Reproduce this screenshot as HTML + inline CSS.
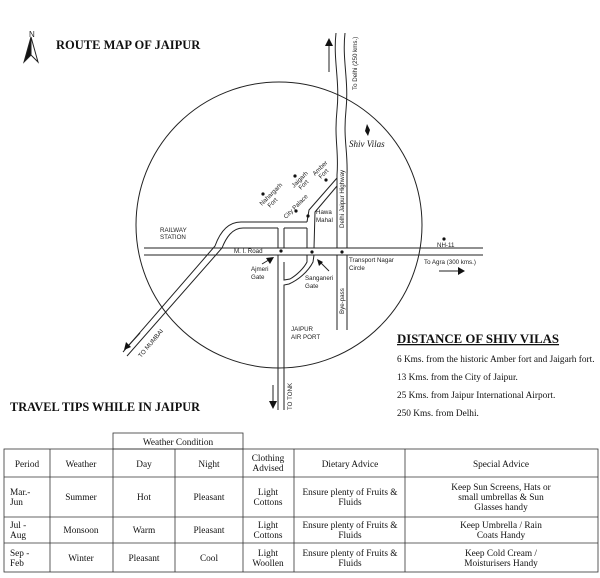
<!DOCTYPE html>
<html><head><meta charset="utf-8"><style>
html,body{margin:0;padding:0;background:#fff;}
svg{display:block;}
.s{font-family:"Liberation Serif",serif;fill:#111;}
.a{font-family:"Liberation Sans",sans-serif;fill:#222;font-size:6.2px;}
</style></head><body>
<svg width="600" height="578" viewBox="0 0 600 578" xmlns="http://www.w3.org/2000/svg">
<g stroke="#222" fill="none" stroke-width="1">
<path d="M31,37 L24,62 L31,55 Z" fill="#111"/>
<path d="M31,37 L38,62 L31,55" />
<circle cx="279" cy="225" r="143"/>
<line x1="144" y1="248" x2="483" y2="248"/>
<line x1="144" y1="255" x2="483" y2="255"/>
<path d="M336,33 C333,60 340,80 337,110 C334,140 339,150 337,175 L337,248"/>
<path d="M345,33 C342,60 349,80 346,110 C343,140 348,150 347,175 L347,248"/>
<line x1="337" y1="255" x2="337" y2="330"/>
<line x1="347" y1="255" x2="347" y2="330"/>
<line x1="329" y1="44" x2="329" y2="72"/>
<line x1="278" y1="228" x2="278" y2="248"/>
<line x1="278" y1="255" x2="278" y2="410"/>
<line x1="284" y1="228" x2="284" y2="248"/>
<path d="M284,262 L284,280 L290,279 C297,275 304,268 307,262 L307,255"/>
<path d="M284,410 L284,285 L289,284 C298,280 308,272 313,262 L314,255"/>
<line x1="273" y1="385" x2="273" y2="405"/>
<line x1="307" y1="228" x2="307" y2="248"/>
<line x1="284" y1="228" x2="307" y2="228"/>
<path d="M307,222 L241,222 C228,222 220,232 215,246 L123,352"/>
<path d="M278,228 L243,228 C232,228 226,238 222,248 L127,356"/>
<path d="M307,222 L309,210 L337,178"/>
<path d="M314,248 L315,212 L337,186"/>
<line x1="439" y1="271" x2="460" y2="271"/>
<line x1="262" y1="264" x2="272" y2="258"/>
<line x1="329" y1="271" x2="319" y2="261"/>
<line x1="128" y1="346" x2="140" y2="333"/>
</g>
<g fill="#111">
<path d="M329,38 L325,46 L333,46 Z"/>
<path d="M273,409 L269,401 L277,401 Z"/>
<path d="M465,271 L458,267 L458,275 Z"/>
<path d="M274,257 L266,258 L270,264 Z"/>
<path d="M317,259 L319,266 L323,262 Z"/>
<path d="M124,350 L126,342 L131,347 Z"/>
<circle cx="281" cy="251" r="1.6"/><circle cx="312" cy="252" r="1.6"/><circle cx="342" cy="252" r="1.6"/>
<circle cx="308" cy="216" r="1.6"/><circle cx="263" cy="194" r="1.6"/><circle cx="295" cy="176" r="1.6"/>
<circle cx="326" cy="180" r="1.6"/><circle cx="296" cy="211" r="1.6"/><circle cx="444" cy="239" r="1.6"/>
<path d="M367,124 L365,131 L368,136 L370,130 Z"/>
</g>
<text class="a" x="29" y="37" style="font-size:8px">N</text>
<text class="s" x="56" y="49" style="font-size:12.5px;font-weight:bold">ROUTE MAP OF JAIPUR</text>
<text class="s" x="10" y="411" style="font-size:12.3px;font-weight:bold">TRAVEL TIPS WHILE IN JAIPUR</text>
<text class="s" x="397" y="343" style="font-size:12.8px;font-weight:bold;text-decoration:underline">DISTANCE OF SHIV VILAS</text>
<g class="s" style="font-size:9.3px">
<text x="397" y="362">6 Kms. from the historic Amber fort and Jaigarh fort.</text>
<text x="397" y="380">13 Kms. from the City of Jaipur.</text>
<text x="397" y="398">25 Kms. from Jaipur International Airport.</text>
<text x="397" y="416">250 Kms. from Delhi.</text>
</g>
<text class="s" x="349" y="147" style="font-size:9px;font-style:italic">Shiv  Vilas</text>
<text class="a" x="160" y="232">RAILWAY</text>
<text class="a" x="160" y="239">STATION</text>
<text class="a" x="234" y="253">M. I. Road</text>
<text class="a" x="251" y="271">Ajmeri</text>
<text class="a" x="251" y="279">Gate</text>
<text class="a" x="305" y="280">Sanganeri</text>
<text class="a" x="305" y="288">Gate</text>
<text class="a" x="316" y="214">Hawa</text>
<text class="a" x="316" y="222">Mahal</text>
<text class="a" x="349" y="262">Transport Nagar</text>
<text class="a" x="349" y="270">Circle</text>
<text class="a" x="424" y="264">To Agra (300 kms.)</text>
<text class="a" x="437" y="247">NH-11</text>
<text class="a" x="291" y="331">JAIPUR</text>
<text class="a" x="291" y="339">AIR PORT</text>
<text class="a" transform="translate(344,228) rotate(-90)">Delhi Jaipur Highway</text>
<text class="a" transform="translate(357,90) rotate(-90)">To Delhi (250 kms.)</text>
<text class="a" transform="translate(344,314) rotate(-90)">Bye-pass</text>
<text class="a" transform="translate(292,410) rotate(-90)">TO TONK</text>
<text class="a" transform="translate(141,358) rotate(-50)">TO MUMBAI</text>
<text class="a" transform="translate(262,206) rotate(-45)">Nahargarh</text>
<text class="a" transform="translate(270,208) rotate(-45)">Fort</text>
<text class="a" transform="translate(294,188) rotate(-45)">Jaigarh</text>
<text class="a" transform="translate(301,190) rotate(-45)">Fort</text>
<text class="a" transform="translate(315,176) rotate(-45)">Amber</text>
<text class="a" transform="translate(321,179) rotate(-45)">Fort</text>
<text class="a" transform="translate(286,219) rotate(-45)">City Palace</text>
<g stroke="#333" stroke-width="0.8" fill="none">
<rect x="113" y="433" width="130" height="16"/>
<rect x="4" y="449" width="594" height="123"/>
<line x1="4" y1="477" x2="598" y2="477"/>
<line x1="4" y1="517" x2="598" y2="517"/>
<line x1="4" y1="543" x2="598" y2="543"/>
<line x1="50" y1="449" x2="50" y2="572"/>
<line x1="113" y1="449" x2="113" y2="572"/>
<line x1="175" y1="449" x2="175" y2="572"/>
<line x1="243" y1="449" x2="243" y2="572"/>
<line x1="294" y1="449" x2="294" y2="572"/>
<line x1="405" y1="449" x2="405" y2="572"/>
</g>
<g class="s" style="font-size:9.3px" text-anchor="middle">
<text x="178" y="445">Weather Condition</text>
<text x="27" y="467">Period</text><text x="81" y="467">Weather</text><text x="144" y="467">Day</text><text x="209" y="467">Night</text>
<text x="268" y="461">Clothing</text><text x="268" y="471">Advised</text>
<text x="350" y="467">Dietary Advice</text><text x="501" y="467">Special Advice</text>
<text x="81" y="500">Summer</text><text x="144" y="500">Hot</text><text x="209" y="500">Pleasant</text>
<text x="268" y="495">Light</text><text x="268" y="505">Cottons</text>
<text x="350" y="495">Ensure plenty of Fruits &amp;</text><text x="350" y="505">Fluids</text>
<text x="501" y="490">Keep Sun Screens, Hats or</text><text x="501" y="500">small umbrellas &amp; Sun</text><text x="501" y="510">Glasses handy</text>
<text x="81" y="533">Monsoon</text><text x="144" y="533">Warm</text><text x="209" y="533">Pleasant</text>
<text x="268" y="528">Light</text><text x="268" y="538">Cottons</text>
<text x="350" y="528">Ensure plenty of Fruits &amp;</text><text x="350" y="538">Fluids</text>
<text x="501" y="528">Keep Umbrella / Rain</text><text x="501" y="538">Coats Handy</text>
<text x="81" y="561">Winter</text><text x="144" y="561">Pleasant</text><text x="209" y="561">Cool</text>
<text x="268" y="556">Light</text><text x="268" y="566">Woollen</text>
<text x="350" y="556">Ensure plenty of Fruits &amp;</text><text x="350" y="566">Fluids</text>
<text x="501" y="556">Keep Cold Cream /</text><text x="501" y="566">Moisturisers Handy</text>
</g>
<g class="s" style="font-size:9.3px">
<text x="10" y="495">Mar.-</text><text x="10" y="505">Jun</text>
<text x="10" y="528">Jul -</text><text x="10" y="538">Aug</text>
<text x="10" y="556">Sep -</text><text x="10" y="566">Feb</text>
</g>
</svg>
</body></html>
